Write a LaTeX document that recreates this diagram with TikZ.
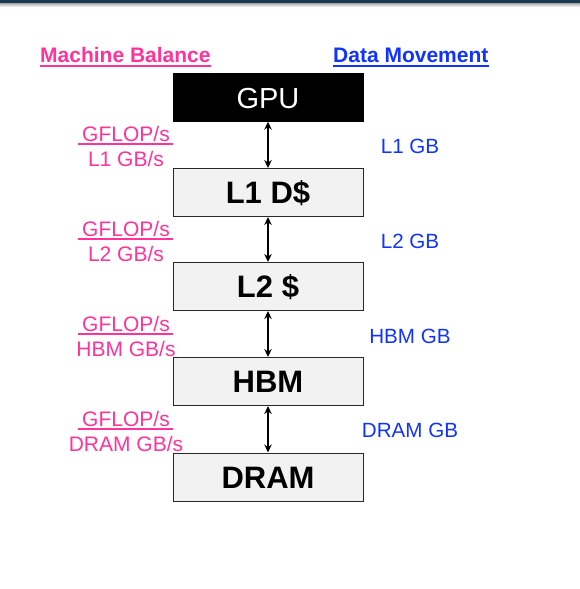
\documentclass[tikz,border=0pt]{standalone}
\usepackage{fontspec}
\setmainfont{Liberation Sans}
\usetikzlibrary{arrows.meta}
\definecolor{mbpink}{RGB}{255,51,153}
\definecolor{dmblue}{RGB}{17,51,255}
\definecolor{boxgray}{RGB}{242,242,242}
\definecolor{boxedge}{RGB}{40,40,40}
\definecolor{topnavy}{RGB}{28,58,82}
\tikzset{
  membox/.style={draw=boxedge, line width=1pt, fill=boxgray, minimum width=190pt, minimum height=48pt, inner sep=0pt,
    font=\fontsize{31}{31}\selectfont\bfseries, text height=22pt, text depth=0pt},
  gpubox/.style={draw=black, fill=black, text=white, minimum width=190pt, minimum height=48pt, inner sep=0pt,
    font=\fontsize{29}{29}\selectfont, text height=21pt, text depth=0pt},
  link/.style={{Stealth[length=8pt,width=7.5pt]}-{Stealth[length=8pt,width=7.5pt]}, line width=1.8pt, black},
  header/.style={font=\fontsize{21}{21}\selectfont\bfseries, anchor=base west, inner sep=0pt},
  pinklbl/.style={text=mbpink, font=\fontsize{21}{21}\selectfont, anchor=base, inner sep=0pt},
  bluelbl/.style={text=dmblue, font=\fontsize{20.6}{21}\selectfont, anchor=base, inner sep=0pt},
  fracline/.style={draw=mbpink, line width=1.6pt}
}
\begin{document}
\begin{tikzpicture}[x=1pt, y=-1pt]
\useasboundingbox (0,0) rectangle (580,589);
% top bar
\fill[topnavy] (0,0) rectangle (580,3);
\shade[top color=black!35, bottom color=white] (0,3) rectangle (580,7);
% headers
\node[header, text=mbpink] (mb) at (40,62) {Machine Balance};
\draw[mbpink, line width=2pt] (mb.south west |- 0,65.5) -- (mb.south east |- 0,65.5);
\node[header, text=dmblue] (dm) at (333,62) {Data Movement};
\draw[dmblue, line width=2pt] (dm.south west |- 0,65.5) -- (dm.south east |- 0,65.5);
% boxes
\node[gpubox] (gpu) at (268,97.5) {GPU};
\node[membox] (l1) at (268,192.5) {L1 D\$};
\node[membox] (l2) at (268,286.5) {L2 \$};
\node[membox] (hbm) at (268,381.5) {HBM};
\node[membox] (dram) at (268,477) {DRAM};
% arrows
\draw[link] (gpu.south) -- (l1.north);
\draw[link] (l1.south) -- (l2.north);
\draw[link] (l2.south) -- (hbm.north);
\draw[link] (hbm.south) -- (dram.north);
% machine balance fractions
\foreach \ly/\den/\nm in {144/{L1 GB/s}/a, 239/{L2 GB/s}/b, 334/{HBM GB/s}/c, 429/{DRAM GB/s}/d}{
  \node[pinklbl] (num\nm) at (126,\ly-3) {GFLOP/s};
  \coordinate (fl\nm) at (78,\ly);
  \coordinate (fr\nm) at (173,\ly);
  \draw[fracline] (fl\nm) -- (fr\nm);
  \node[pinklbl] (den\nm) at (126,\ly+22) {\den};
}
% data movement labels
\node[bluelbl] (dl1) at (410,153) {L1 GB};
\node[bluelbl] (dl2) at (410,248) {L2 GB};
\node[bluelbl] (dhbm) at (410,343) {HBM GB};
\node[bluelbl] (ddram) at (410,437.5) {DRAM GB};
\end{tikzpicture}
\end{document}
